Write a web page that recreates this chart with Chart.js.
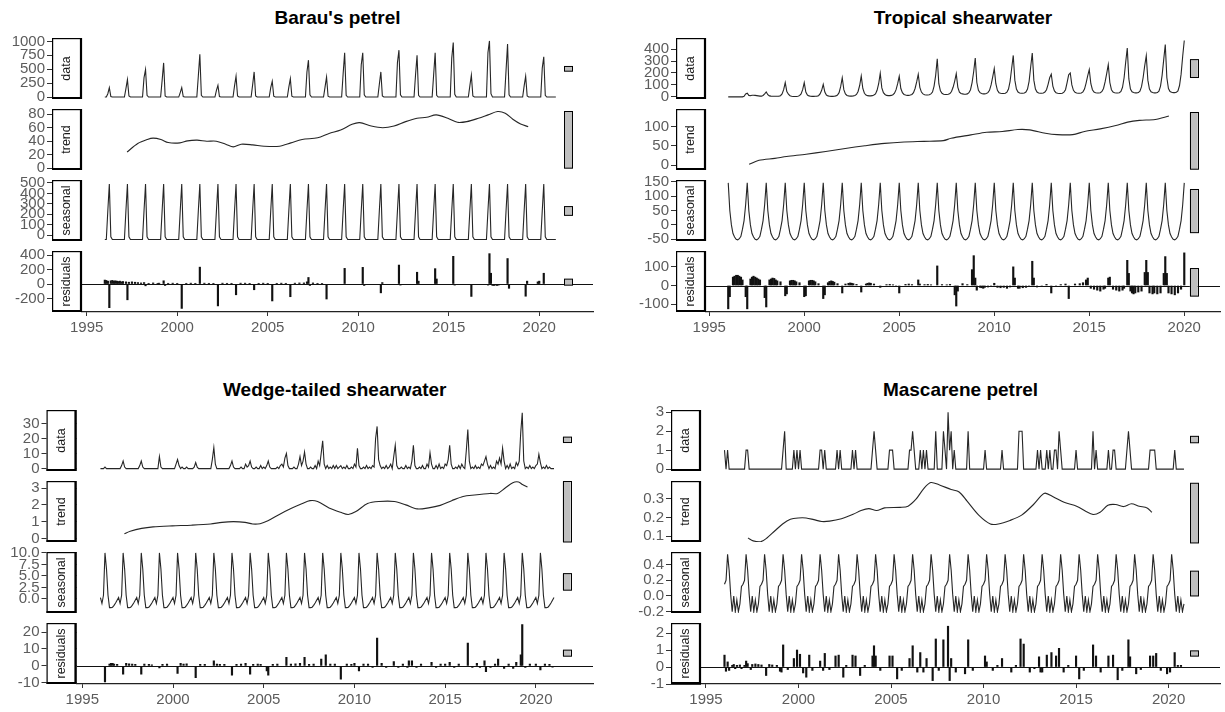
<!DOCTYPE html>
<html>
<head>
<meta charset="utf-8">
<script src="https://cdn.jsdelivr.net/npm/chart.js@4.4.1/dist/chart.umd.min.js"></script>
<style>
  body { margin: 0; background: #fff; width: 1225px; height: 712px; position: relative; overflow: hidden; }
  canvas { position: absolute; }
  .title { position: absolute; transform: translate(-50%, -50%); white-space: nowrap;
           font: bold 19px "Liberation Sans", Arial, sans-serif; color: #000; }
</style>
</head>
<body>
<script>
// ---------- shared ----------
const xTicks = [1995, 2000, 2005, 2010, 2015, 2020];

// ---------- Barau's petrel (monthly Jan 1996 - Dec 2020) ----------
const baraoMonths = 300;
const baraoPeakYears = [1996,1997,1998,1999,2000,2001,2002,2003,2004,2005,2006,2007,2008,2009,2010,2011,2012,2013,2014,2015,2016,2017,2018,2019,2020];
const baraoMar = [60,150,350,300,80,380,120,200,220,170,180,450,180,420,580,230,620,400,400,700,200,800,480,200,520];
const baraoApr = [169,313,494,614,169,771,211,373,452,283,331,663,361,795,795,452,843,753,795,982,392,1010,952,373,723];
const baraoMay = [10,20,30,20,10,30,10,20,20,15,15,40,15,30,40,20,40,30,30,50,20,60,40,20,30];
const baraoTrend = [[1997.23,24],[1997.82,36.5],[1998.35,42.5],[1998.67,44.5],[1999.1,42.5],[1999.5,38],[2000.15,37.5],[2000.57,40.5],[2001.1,41.5],[2001.63,40],[2002.16,40],[2002.68,35.5],[2003.1,31.5],[2003.53,35.5],[2004.17,34.5],[2004.8,32.5],[2005.65,32.5],[2006.28,37.5],[2006.9,42.5],[2007.76,45],[2008.39,51.5],[2009.03,56.5],[2009.66,65],[2010.08,67.5],[2010.72,62.5],[2011.35,60],[2011.98,62.5],[2012.62,69],[2013.25,74],[2013.78,75.5],[2014.31,79],[2014.95,74],[2015.48,68],[2016.0,69],[2016.64,74],[2017.17,79],[2017.7,84],[2018.12,81.5],[2018.54,72.5],[2018.97,65.5],[2019.39,61.5]];
const baraoSeasonal = [-40,-40,235,490,-15,-40,-40,-40,-40,-40,-40,-40];
const baraoResid = [[1996.0,55],[1996.08,50],[1996.17,40],[1996.25,-330],[1996.33,45],[1996.42,50],[1996.5,40],[1996.58,45],[1996.67,40],[1996.75,35],[1996.83,40],[1996.92,30],
  [1997.0,35],[1997.17,30],[1997.25,-220],[1997.33,25],[1997.5,30],[1997.67,25],[1997.83,20],
  [1998.0,15],[1998.17,20],[1998.25,-25],[1998.42,10],[1998.67,15],[1998.92,10],
  [1999.0,12],[1999.25,45],[1999.33,-20],[1999.5,10],[1999.75,12],
  [2000.0,10],[2000.25,-340],[2000.5,10],[2000.75,12],[2001.0,10],[2001.25,235],[2001.5,12],[2001.75,10],
  [2002.0,10],[2002.25,-305],[2002.5,12],[2002.75,10],[2003.0,10],[2003.25,-150],[2003.5,12],[2003.75,12],
  [2004.0,10],[2004.25,-80],[2004.5,10],[2004.75,12],[2005.0,10],[2005.25,-236],[2005.5,10],[2005.75,12],
  [2006.0,10],[2006.25,-177],[2006.5,12],[2006.75,15],[2007.0,15],[2007.17,30],[2007.25,91],[2007.33,-20],[2007.5,15],[2007.75,10],
  [2008.0,5],[2008.25,-209],[2009.25,218],[2010.25,232],[2010.33,-20],[2011.25,-123],[2011.33,20],
  [2012.25,264],[2012.33,-15],[2013.25,164],[2013.33,40],[2014.25,214],[2014.33,70],[2015.25,386],[2015.33,-15],
  [2016.25,-173],[2017.17,-15],[2017.25,423],[2017.33,150],[2017.42,-20],[2017.5,-20],[2017.58,-15],[2017.67,-20],[2017.75,-15],
  [2018.25,355],[2018.33,-60],[2019.25,-170],[2019.33,40],[2019.92,30],[2020.0,40],[2020.25,150],[2020.33,-10]];
const baraoTicks = { data: ['0','250','500','750','1000'], trend: ['0','20','40','60','80'],
  seasonal: ['0','100','200','300','400','500'], residuals: ['-200','0','200','400'] };

// ---------- Tropical shearwater (monthly Jan 1996 - Jan 2020) ----------
const tropData = [
  [0,0,0,0,0,0,0,0,0,0,5,25],
  [30,12,10,14,14,12,10,8,6,6,12,25],
  [41,18,8,6,5,5,5,5,6,10,25,60],
  [119,45,22,10,5,3,3,3,5,10,25,60],
  [119,40,15,8,5,4,4,5,6,10,25,55],
  [105,40,15,8,5,4,4,5,8,15,35,85],
  [160,60,25,12,8,6,6,8,12,20,45,95],
  [174,70,30,15,10,8,8,10,15,25,55,110],
  [197,75,35,20,12,10,10,12,18,30,60,110],
  [172,70,35,20,15,12,12,15,20,35,70,125],
  [189,80,40,25,18,15,15,18,25,40,90,180],
  [319,110,50,30,22,20,20,22,28,45,80,130],
  [194,80,40,28,25,22,22,25,35,60,120,210],
  [325,120,55,35,28,25,25,28,35,55,100,165],
  [236,110,55,35,30,28,28,30,40,65,130,240],
  [347,140,65,40,32,30,30,32,40,65,130,250],
  [367,140,65,40,32,30,30,32,40,60,105,160],
  [189,90,50,35,30,28,28,30,40,60,120,185],
  [200,100,55,38,32,30,30,32,42,65,115,175],
  [228,110,60,40,35,32,32,35,45,70,125,195],
  [269,120,60,40,35,32,32,35,45,80,160,290],
  [408,150,65,42,36,33,33,36,48,85,160,260],
  [344,140,65,42,36,33,33,36,48,90,180,310],
  [439,160,70,45,38,35,35,38,50,95,190,340],
  [472]
];
const tropTrend = [[1997.1,2.6],[1997.62,13],[1998.45,18],[1999.07,22.6],[2000.1,28.7],[2001.13,35.7],[2002.16,43.5],[2003.19,50.4],[2004.23,56.5],[2005.26,60],[2006.29,61.7],[2007.32,63.5],[2007.73,69.6],[2008.77,78.3],[2009.6,85.2],[2010.42,87],[2011.24,92.2],[2011.86,91.3],[2012.69,82.6],[2013.31,79],[2014.13,79],[2014.75,87],[2015.58,93.9],[2016.4,102.6],[2017.02,111.3],[2017.64,115.7],[2018.47,118],[2019.19,127]];
const tropSeasonal = [146,50,0,-30,-42,-50,-52,-48,-40,-15,15,70];
const tropMonths = 289;
const tropResid = [[1996.0,-125],[1996.08,-60],[1996.25,45],[1996.33,50],[1996.42,55],[1996.5,55],[1996.58,50],[1996.67,45],[1996.75,30],[1996.92,-60],
  [1997.0,-125],[1997.17,35],[1997.25,45],[1997.33,50],[1997.42,45],[1997.5,40],[1997.58,35],[1997.67,30],[1997.92,-65],
  [1998.0,-115],[1998.17,30],[1998.25,35],[1998.33,40],[1998.42,38],[1998.5,30],[1998.58,25],[1998.75,20],
  [1999.0,-55],[1999.08,-45],[1999.25,25],[1999.33,28],[1999.42,28],[1999.5,25],[1999.58,20],[1999.75,15],
  [2000.0,-60],[2000.08,-55],[2000.25,25],[2000.33,28],[2000.42,28],[2000.5,25],[2000.58,20],[2000.75,10],
  [2001.0,-70],[2001.08,-50],[2001.25,15],[2001.33,22],[2001.42,25],[2001.5,22],[2001.58,18],[2001.75,10],
  [2002.0,-40],[2002.17,8],[2002.33,12],[2002.42,14],[2002.5,12],[2002.58,10],[2002.75,6],
  [2003.0,-35],[2003.25,8],[2003.33,12],[2003.42,14],[2003.5,12],[2003.67,8],
  [2004.0,-10],[2004.33,5],[2004.5,6],[2004.67,4],[2004.83,-4],[2005.0,-40],[2005.33,6],[2005.5,8],[2005.67,5],
  [2006.0,30],[2006.08,8],[2006.33,5],[2006.5,6],[2006.67,4],[2007.0,105],[2007.25,5],[2007.5,4],[2007.67,6],
  [2007.92,-50],[2008.0,-110],[2008.08,-30],[2008.33,10],[2008.58,5],
  [2008.83,85],[2008.92,160],[2009.0,40],[2009.08,-25],[2009.25,-10],[2009.33,-12],[2009.42,-15],[2009.5,-10],[2009.67,-8],[2009.83,-5],
  [2010.0,12],[2010.17,-10],[2010.33,-12],[2010.5,-10],[2010.67,-15],[2010.83,-8],
  [2011.0,100],[2011.08,40],[2011.25,-15],[2011.33,-15],[2011.5,-12],[2011.67,-10],[2011.83,-5],
  [2012.0,130],[2012.08,40],[2012.25,-8],[2012.5,-5],[2012.75,6],[2013.0,-40],[2013.25,-5],[2013.5,5],[2013.75,8],
  [2013.92,-70],[2014.25,8],[2014.5,10],[2014.67,15],[2014.83,30],[2014.92,40],
  [2015.08,-15],[2015.25,-20],[2015.42,-25],[2015.58,-30],[2015.75,-20],[2015.83,-15],
  [2016.0,40],[2016.08,45],[2016.25,-20],[2016.42,-25],[2016.58,-30],[2016.75,-25],[2016.83,-15],
  [2017.0,135],[2017.08,65],[2017.17,-30],[2017.25,-40],[2017.33,-45],[2017.42,-40],[2017.58,-35],[2017.75,-30],[2017.92,70],
  [2018.0,135],[2018.08,70],[2018.17,-40],[2018.33,-45],[2018.42,-40],[2018.58,-45],[2018.75,-40],[2018.92,65],
  [2019.0,155],[2019.08,65],[2019.17,-40],[2019.33,-45],[2019.5,-50],[2019.67,-40],[2019.83,-20],[2020.0,175]];
const tropTicks = { data: ['0','100','200','300','400'], trend: ['0','50','100'],
  seasonal: ['-50','0','50','100','150'], residuals: ['-100','0','100'] };

// ---------- Wedge-tailed shearwater (monthly Jan 1996 - Jan 2021) ----------
const wedgeMonths = 301;
const wedgeData = [[1996.25,1],[1997.17,2],[1997.25,5],[1997.33,1],[1998.17,2],[1998.25,5],[1998.33,1],[1999.25,8],[1999.33,1],
  [2000.17,3],[2000.25,6],[2000.33,2],[2000.5,1],[2000.75,1],[2001.17,1],[2001.25,4],[2001.33,1],
  [2002.17,6],[2002.25,14],[2002.33,3],[2003.17,2],[2003.25,5],[2003.33,1],[2003.75,1],
  [2004.0,3],[2004.08,1],[2004.17,2],[2004.25,5],[2004.33,1],[2004.58,1],[2004.83,2],
  [2005.0,1],[2005.17,2],[2005.25,5],[2005.33,1],[2005.75,1],[2005.92,2],
  [2006.0,3],[2006.08,1],[2006.17,7],[2006.25,10],[2006.33,2],[2006.67,1],[2006.92,3],
  [2007.0,8],[2007.08,2],[2007.17,5],[2007.25,11],[2007.33,3],[2007.58,1],[2007.83,2],
  [2008.0,5],[2008.08,2],[2008.17,10],[2008.25,18.5],[2008.33,3],[2008.5,2],[2008.67,1],[2008.83,2],
  [2009.0,2],[2009.17,1],[2009.25,2],[2009.42,1],[2009.58,2],[2009.83,1],
  [2010.0,3],[2010.08,1],[2010.17,13.5],[2010.25,2],[2010.5,1],[2010.67,2],[2010.83,1],
  [2011.0,2],[2011.08,1],[2011.17,20],[2011.25,28],[2011.33,6],[2011.42,2],[2011.58,1],[2011.75,2],[2011.92,1],
  [2012.0,3],[2012.17,8],[2012.25,15.5],[2012.33,2],[2012.58,1],[2012.83,2],
  [2013.0,1],[2013.17,5],[2013.25,15.5],[2013.33,2],[2013.58,1],[2013.75,2],
  [2014.0,3],[2014.08,1],[2014.17,10.5],[2014.25,3],[2014.5,2],[2014.67,3],[2014.83,1],
  [2015.0,3],[2015.08,2],[2015.17,6],[2015.25,15.5],[2015.33,3],[2015.58,1],[2015.75,2],[2015.92,3],
  [2016.0,1],[2016.17,12],[2016.25,26],[2016.33,5],[2016.5,1],[2016.67,2],[2016.83,1],
  [2017.0,3],[2017.08,2],[2017.17,5],[2017.25,8],[2017.33,3],[2017.5,2],[2017.67,1],[2017.83,5],[2017.92,3],
  [2018.0,7],[2018.08,3],[2018.17,13.5],[2018.25,5],[2018.42,2],[2018.58,3],[2018.75,1],[2018.92,4],
  [2019.0,2],[2019.08,5],[2019.17,24],[2019.25,37],[2019.33,5],[2019.5,1],[2019.67,2],[2019.83,1],
  [2020.0,2],[2020.08,3],[2020.17,9.5],[2020.25,4],[2020.42,1],[2020.58,2],[2020.75,1]];
const wedgeTrend = [[1997.32,0.28],[1997.64,0.43],[1998.27,0.6],[1998.9,0.69],[1999.96,0.75],[2001.0,0.79],[2002.07,0.86],[2002.7,0.96],[2003.33,1.0],[2003.97,0.96],[2004.39,0.86],[2004.8,0.88],[2005.23,1.05],[2005.86,1.43],[2006.5,1.78],[2007.13,2.08],[2007.55,2.25],[2007.97,2.2],[2008.6,1.82],[2009.24,1.56],[2009.66,1.43],[2010.08,1.6],[2010.72,2.08],[2011.35,2.2],[2012.2,2.2],[2012.83,2.0],[2013.46,1.76],[2014.09,1.82],[2014.73,1.97],[2015.36,2.25],[2015.99,2.5],[2016.62,2.59],[2017.47,2.68],[2017.89,2.68],[2018.31,3.0],[2018.73,3.32],[2019.05,3.36],[2019.26,3.21],[2019.54,3.06]];
const wedgeSeasonal = [0.3,-1.0,0.8,10.0,6.5,0.8,-1.9,-1.9,-1.8,-1.4,-0.9,-0.3];
const wedgeResid = [[1996.25,-9.5],[1996.5,1],[1996.58,1.5],[1996.67,1.5],[1996.75,1],[1996.92,0.8],
  [1997.25,-5],[1997.42,1.5],[1997.58,1.2],[1997.75,1],[1997.92,0.8],[1998.25,-5],[1998.42,1],[1998.67,0.8],[1998.83,0.6],
  [1999.25,-1.2],[1999.42,0.8],[1999.67,1],[2000.25,-4.5],[2000.42,1.5],[2000.58,1],[2000.75,1.2],
  [2001.25,-7],[2001.5,0.8],[2001.75,0.8],[2002.25,3],[2002.42,1],[2002.58,0.8],[2002.83,0.8],
  [2003.25,-5.5],[2003.5,0.8],[2003.75,1],[2004.0,1.5],[2004.25,-5],[2004.42,0.8],[2004.67,1],[2004.83,0.8],
  [2005.17,-3],[2005.25,-5.5],[2005.5,0.8],[2005.75,1],[2006.25,5],[2006.5,1],[2006.75,1.2],
  [2007.0,1.5],[2007.25,5],[2007.5,0.8],[2007.75,1],[2008.17,4],[2008.42,6.5],[2008.67,1],[2008.92,1],
  [2009.25,-8],[2009.58,1],[2009.83,0.8],[2010.0,1.5],[2010.25,-3],[2010.5,1],[2010.75,1],
  [2011.0,-1],[2011.25,16.5],[2011.5,1.5],[2011.75,-1],[2012.17,2.5],[2012.42,-1],[2012.67,1],[2012.92,-1],
  [2013.0,3],[2013.17,3],[2013.42,-1],[2013.67,1],[2014.25,2],[2014.5,-1],[2014.75,1],
  [2015.0,1],[2015.25,2],[2015.5,-1],[2015.75,1],[2016.25,13.5],[2016.5,-1],[2016.75,1.5],[2016.92,-1],
  [2017.17,3],[2017.25,-3.5],[2017.5,-1],[2017.75,1],[2017.92,4],[2018.25,-1.5],[2018.5,1],[2018.75,-1.5],[2018.92,2],
  [2019.17,6.5],[2019.25,24.5],[2019.42,-1],[2019.67,1],[2020.0,1],[2020.25,-2.5],[2020.5,1],[2020.75,0.8],[2020.92,-0.8]];
const wedgeTicks = { data: ['0','10','20','30'], trend: ['0','1','2','3'],
  seasonal: ['0.0','2.5','5.0','7.5','10.0'], residuals: ['-10','0','10','20'] };

// ---------- Mascarene petrel (monthly Jan 1996 - Nov 2020) ----------
const mascMonths = 299;
const mascData = [[1996.0,1],[1996.17,1],[1997.17,1],[1997.25,1],[1999.17,1],[1999.25,2],[1999.75,1],[1999.92,1],[2000.08,1],
  [2001.17,1],[2001.25,1],[2001.42,1],[2002.08,1],[2002.25,1],[2002.92,1],[2003.08,1],
  [2004.0,1],[2004.08,2],[2004.17,1],[2004.92,1],[2005.0,1],[2005.08,1],
  [2006.0,1],[2006.08,1],[2006.17,2],[2006.25,1],[2006.58,1],[2006.75,1],[2006.92,1],
  [2007.42,2],[2007.83,2],[2007.92,1],[2008.08,3],[2008.17,1],[2008.25,2],[2008.42,1],
  [2009.17,2],[2010.08,1],[2011.0,1],[2011.92,2],[2012.0,2],[2012.08,2],
  [2012.92,1],[2013.08,1],[2013.42,1],[2013.58,1],[2013.83,1],[2013.92,1],[2014.08,2],[2014.17,1],
  [2015.0,1],[2015.92,2],[2016.08,1],[2016.75,1],[2017.0,1],[2017.08,1],
  [2017.75,1],[2017.83,2],[2017.92,1],[2019.0,1],[2019.08,1],[2019.17,1],[2019.25,1],[2020.33,1]];
const mascTrend = [[1997.27,0.091],[1997.55,0.076],[1997.97,0.072],[1998.29,0.091],[1998.71,0.128],[1999.14,0.165],[1999.56,0.19],[1999.98,0.197],[2000.41,0.197],[2000.83,0.188],[2001.26,0.178],[2001.68,0.18],[2002.32,0.193],[2002.95,0.216],[2003.38,0.236],[2003.8,0.246],[2004.22,0.236],[2004.65,0.25],[2005.5,0.253],[2005.92,0.259],[2006.35,0.296],[2006.77,0.352],[2007.15,0.384],[2007.62,0.371],[2008.25,0.347],[2008.68,0.334],[2009.1,0.287],[2009.74,0.212],[2010.37,0.165],[2010.8,0.165],[2011.43,0.184],[2012.06,0.212],[2012.7,0.268],[2013.12,0.315],[2013.33,0.328],[2013.76,0.309],[2014.39,0.278],[2015.03,0.259],[2015.88,0.216],[2016.3,0.227],[2016.72,0.264],[2017.14,0.268],[2017.57,0.257],[2017.99,0.272],[2018.42,0.259],[2018.84,0.25],[2019.1,0.227]];
const mascSeasonal = [0.15,0.2,0.53,0.33,0.02,-0.2,0.0,-0.2,-0.05,-0.2,-0.1,0.12];
const mascResid = [[1996.0,0.7],[1996.08,-0.25],[1996.17,0.3],[1996.25,-0.2],[1996.42,0.1],[1996.5,0.15],[1996.58,-0.1],[1996.67,0.1],[1996.83,0.12],[1996.92,-0.1],
  [1997.08,0.1],[1997.17,0.35],[1997.25,0.2],[1997.42,-0.15],[1997.5,0.15],[1997.67,0.18],[1997.83,0.15],
  [1998.0,0.12],[1998.25,-0.5],[1998.42,0.15],[1998.58,0.12],[1998.83,0.1],
  [1999.0,-0.25],[1999.08,-0.3],[1999.17,1.3],[1999.42,-0.15],[1999.75,0.5],[1999.92,1.0],[2000.08,0.75],[2000.25,-0.35],[2000.42,-0.6],[2000.58,0.7],[2000.75,-0.2],
  [2001.17,0.35],[2001.33,-0.2],[2001.42,0.8],[2001.67,-0.15],[2002.0,0.65],[2002.17,0.7],[2002.42,-0.6],[2002.58,0.1],
  [2002.92,0.7],[2003.08,0.65],[2003.33,-0.5],[2003.58,0.1],[2004.0,0.65],[2004.08,1.25],[2004.17,0.65],[2004.42,-0.2],
  [2004.92,0.65],[2005.08,0.65],[2005.33,-0.7],[2005.58,-0.2],[2006.0,0.5],[2006.17,1.25],[2006.42,-0.3],[2006.58,0.85],[2006.75,-0.3],[2006.92,0.5],
  [2007.25,-0.8],[2007.42,1.65],[2007.58,-0.2],[2007.83,1.6],[2008.08,2.4],[2008.17,-0.8],[2008.25,0.5],[2008.5,-0.3],
  [2009.0,-0.4],[2009.17,1.6],[2009.42,-0.2],[2010.08,0.65],[2010.17,0.3],[2010.5,-0.2],[2010.75,0.1],
  [2011.0,0.5],[2011.5,-0.3],[2011.75,0.1],[2012.0,1.65],[2012.17,1.35],[2012.5,-0.3],[2012.75,-0.1],
  [2013.0,0.6],[2013.08,-0.3],[2013.17,-0.3],[2013.42,0.7],[2013.67,0.85],[2013.92,0.65],[2014.08,1.1],[2014.33,-0.3],[2014.58,0.1],
  [2015.0,0.65],[2015.17,-0.7],[2015.42,-0.2],[2015.92,1.3],[2016.08,0.65],[2016.33,-0.3],
  [2016.75,0.65],[2017.0,0.7],[2017.25,-0.75],[2017.5,-0.2],[2017.83,1.6],[2017.92,0.6],[2018.25,-0.4],[2018.5,-0.15],
  [2019.0,0.65],[2019.17,0.65],[2019.33,0.8],[2019.58,-0.2],[2019.92,-0.4],[2020.08,-0.3],[2020.33,0.85],[2020.5,0.1],[2020.67,0.1]];
const mascTicks = { data: ['0','1','2','3'], trend: ['0.1','0.2','0.3'],
  seasonal: ['-0.2','0.0','0.2','0.4'], residuals: ['-1','0','1','2'] };

// ---------- helpers to turn the arrays into chart points ----------
const monthly = (start, vals) => vals.map((v, i) => ({ x: start + i / 12, y: v }));
const fromPairs = pairs => pairs.map(([x, y]) => ({ x, y }));
function sparseMonthly(start, n, pairs) {
  const vals = new Array(n).fill(0);
  pairs.forEach(([t, v]) => { vals[Math.round((t - start) * 12)] = v; });
  return monthly(start, vals);
}
function repeatSeason(pattern, n) {
  const out = [];
  for (let i = 0; i < n; i++) out.push(pattern[i % 12]);
  return out;
}
const baraoDataPairs = baraoPeakYears.flatMap((yr, i) =>
  [[yr + 2 / 12, baraoMar[i]], [yr + 3 / 12, baraoApr[i]], [yr + 4 / 12, baraoMay[i]]]);

// ---------- layout ----------
const PAD = 8, XAXIS_H = 30;
const TICK_COLOR = '#5c5c5c';
const panels = [
  { title: "Barau's petrel", canvasLeft: 0, canvasW: 600, stripLeft: 52, plotLeft: 82, plotRight: 593,
    xMin: 1994.74, xMax: 2022.97, barX: 2021.59, rows: [37.5, 108.8, 180.1, 251.4], rowH: 61, titleY: 18,
    subs: [
      { label: 'data', line: sparseMonthly(1996, baraoMonths, baraoDataPairs), y: [-35, 1062], ticks: baraoTicks.data, bar: [465, 550] },
      { label: 'trend', line: fromPairs(baraoTrend), smooth: true, y: [-2.7, 87.7], ticks: baraoTicks.trend, bar: [0, 84] },
      { label: 'seasonal', line: monthly(1996, repeatSeason(baraoSeasonal, baraoMonths)), y: [-55, 528], ticks: baraoTicks.seasonal, bar: [190, 274] },
      { label: 'residuals', bars: fromPairs(baraoResid), y: [-390, 460], ticks: baraoTicks.residuals, bar: [-16, 68] }
    ] },
  { title: 'Tropical shearwater', canvasLeft: 610, canvasW: 615, stripLeft: 676, plotLeft: 706, plotRight: 1220,
    xMin: 1994.83, xMax: 2021.88, barX: 2020.5, rows: [37.5, 108.8, 180.1, 251.4], rowH: 61, titleY: 18,
    subs: [
      { label: 'data', line: monthly(1996, tropData.flat()), y: [-18, 493], ticks: tropTicks.data, bar: [162, 312] },
      { label: 'trend', line: fromPairs(tropTrend), smooth: true, y: [-12, 145], ticks: tropTicks.trend, bar: [-10, 136] },
      { label: 'seasonal', line: monthly(1996, repeatSeason(tropSeasonal, tropMonths)), y: [-56, 156], ticks: tropTicks.seasonal, bar: [-27, 123] },
      { label: 'residuals', bars: fromPairs(tropResid), y: [-142, 185], ticks: tropTicks.residuals, bar: [-57, 91] }
    ] },
  { title: 'Wedge-tailed shearwater', canvasLeft: 0, canvasW: 600, stripLeft: 46.5, plotLeft: 76.5, plotRight: 593,
    xMin: 1994.68, xMax: 2023.15, barX: 2021.7, rows: [410, 481, 552, 623], rowH: 60.7, titleY: 390,
    subs: [
      { label: 'data', line: sparseMonthly(1996, wedgeMonths, wedgeData), y: [-1.6, 38.9], ticks: wedgeTicks.data, bar: [17.3, 20.9] },
      { label: 'trend', line: fromPairs(wedgeTrend), smooth: true, y: [-0.21, 3.42], ticks: wedgeTicks.trend, bar: [-0.21, 3.39] },
      { label: 'seasonal', line: monthly(1996, repeatSeason(wedgeSeasonal, wedgeMonths)), y: [-3.06, 10.2], ticks: wedgeTicks.seasonal, bar: [1.9, 5.5] },
      { label: 'residuals', bars: fromPairs(wedgeResid), y: [-10.8, 25.4], ticks: wedgeTicks.residuals, bar: [5.7, 9.3] }
    ] },
  { title: 'Mascarene petrel', canvasLeft: 610, canvasW: 615, stripLeft: 671, plotLeft: 701, plotRight: 1220,
    xMin: 1994.73, xMax: 2022.78, barX: 2021.4, rows: [410, 481, 552, 623], rowH: 60.7, titleY: 390,
    subs: [
      { label: 'data', line: sparseMonthly(1996, mascMonths, mascData), y: [-0.1, 3.12], ticks: mascTicks.data, bar: [1.39, 1.73] },
      { label: 'trend', line: fromPairs(mascTrend), smooth: true, y: [0.07, 0.392], ticks: mascTicks.trend, bar: [0.065, 0.38] },
      { label: 'seasonal', line: monthly(1996, repeatSeason(mascSeasonal, mascMonths)), y: [-0.217, 0.56], ticks: mascTicks.seasonal, bar: [0.0, 0.316] },
      { label: 'residuals', bars: fromPairs(mascResid), y: [-1.0, 2.59], ticks: mascTicks.residuals, bar: [0.64, 0.95] }
    ] }
];

Chart.defaults.font.family = '"Liberation Sans", Arial, sans-serif';

// strip box, range bar and zero line drawn on top of each small panel
function decorPlugin(panel, sub) {
  return {
    id: 'decor',
    afterDraw(chart) {
      const { ctx, chartArea: a, scales: { x, y } } = chart;
      const sw = panel.plotLeft - panel.stripLeft;
      const sl = a.left - sw;
      const h = a.bottom - a.top;
      ctx.save();
      if (sub.bars) {
        const y0 = Math.round(y.getPixelForValue(0)) + 0.5;
        ctx.strokeStyle = '#111'; ctx.lineWidth = 1.2;
        ctx.beginPath(); ctx.moveTo(a.left, y0); ctx.lineTo(a.right, y0); ctx.stroke();
      }
      // strip
      ctx.fillStyle = '#fff';
      ctx.fillRect(sl, a.top, sw, h);
      ctx.strokeStyle = '#000'; ctx.lineWidth = 1.2;
      ctx.strokeRect(sl + 0.6, a.top + 0.6, sw - 1.2, h - 1.2);
      ctx.lineWidth = 2.2;
      ctx.beginPath();
      ctx.moveTo(sl, a.bottom - 1); ctx.lineTo(a.left, a.bottom - 1);
      ctx.moveTo(a.left - 1, a.top); ctx.lineTo(a.left - 1, a.bottom);
      ctx.stroke();
      ctx.translate(sl + sw / 2, a.top + h / 2);
      ctx.rotate(-Math.PI / 2);
      ctx.fillStyle = '#1a1a1a';
      ctx.font = '12.5px "Liberation Sans", Arial, sans-serif';
      ctx.textAlign = 'center'; ctx.textBaseline = 'middle';
      ctx.fillText(sub.label, 0, 0);
      ctx.setTransform(1, 0, 0, 1, 0, 0);
      // range bar
      const bx = x.getPixelForValue(panel.barX);
      const yt = y.getPixelForValue(sub.bar[1]), yb = y.getPixelForValue(sub.bar[0]);
      ctx.fillStyle = '#bfbfbf';
      ctx.fillRect(bx - 4, yt, 8, yb - yt);
      ctx.strokeStyle = '#000'; ctx.lineWidth = 1;
      ctx.strokeRect(Math.round(bx - 4) + 0.5, yt, 8, yb - yt);
      ctx.restore();
    }
  };
}

panels.forEach(panel => {
  const t = document.createElement('div');
  t.className = 'title';
  t.textContent = panel.title;
  t.style.left = ((panel.plotLeft + panel.plotRight) / 2) + 'px';
  t.style.top = panel.titleY + 'px';
  document.body.appendChild(t);

  panel.subs.forEach((sub, i) => {
    const bottom = i === 3;
    const c = document.createElement('canvas');
    c.width = panel.canvasW;
    c.height = Math.round(PAD + panel.rowH + (bottom ? XAXIS_H : PAD));
    c.style.left = panel.canvasLeft + 'px';
    c.style.top = (panel.rows[i] - PAD) + 'px';
    document.body.appendChild(c);

    const tickVals = sub.ticks.map(Number);
    const dataset = sub.bars
      ? { type: 'bar', data: sub.bars, backgroundColor: '#111', barThickness: 1.5, borderWidth: 0 }
      : { type: 'line', data: sub.line, borderColor: '#262626', borderWidth: 1.1, pointRadius: 0,
          tension: sub.smooth ? 0.3 : 0, fill: false };

    new Chart(c, {
      type: 'line',
      data: { datasets: [dataset] },
      options: {
        responsive: false,
        animation: false,
        layout: { padding: { top: PAD, bottom: bottom ? 0 : PAD, left: 0,
                             right: panel.canvasLeft + panel.canvasW - panel.plotRight } },
        plugins: { legend: { display: false }, tooltip: { enabled: false } },
        scales: {
          x: {
            type: 'linear', min: panel.xMin, max: panel.xMax, offset: false, display: bottom,
            border: { display: true, color: '#222', width: 1.2 },
            grid: { display: true, drawOnChartArea: false, drawTicks: true, tickLength: 4, color: '#333', offset: false },
            ticks: { color: TICK_COLOR, font: { size: 15 }, padding: 3, autoSkip: false, maxRotation: 0,
                     callback: v => String(v) },
            afterBuildTicks: s => { s.ticks = xTicks.map(v => ({ value: v })); },
            afterFit: s => {
              s.height = bottom ? XAXIS_H : 0;
              s.paddingLeft = 0; s.paddingRight = 0;
            }
          },
          y: {
            type: 'linear', min: sub.y[0], max: sub.y[1],
            border: { display: false },
            grid: { display: true, drawOnChartArea: false, drawTicks: true,
                    tickLength: panel.plotLeft - panel.stripLeft + 5, color: '#333' },
            ticks: { color: TICK_COLOR, font: { size: 15 }, padding: 2, autoSkip: false,
                     callback: v => sub.ticks[tickVals.indexOf(v)] },
            afterBuildTicks: s => { s.ticks = tickVals.map(v => ({ value: v })); },
            afterFit: s => { s.width = panel.plotLeft - panel.canvasLeft; s.paddingTop = 0; s.paddingBottom = 0; }
          }
        }
      },
      plugins: [decorPlugin(panel, sub)]
    });
  });
});
</script>
</body>
</html>
